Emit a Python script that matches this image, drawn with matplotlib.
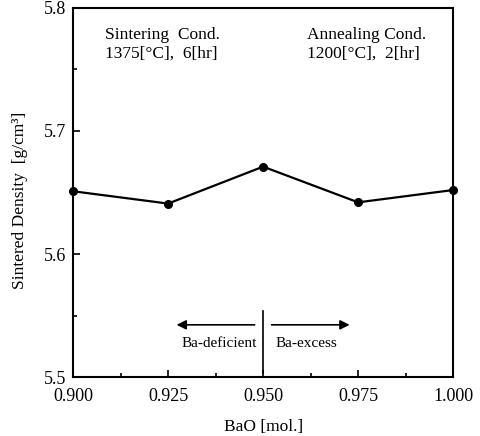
import matplotlib.pyplot as plt
from matplotlib.ticker import MultipleLocator

bao = [0.900, 0.925, 0.950, 0.975, 1.000]
density = [5.651, 5.641, 5.671, 5.642, 5.652]

plt.rcParams['font.family'] = ['Liberation Serif', 'DejaVu Serif']
plt.rcParams['font.size'] = 12.5

fig = plt.figure(figsize=(4.81, 4.36), dpi=100)
ax = fig.add_axes([0.152, 0.135, 0.79, 0.847])

ax.plot(bao, density, color='black', lw=1.6, marker='o', ms=5.5, clip_on=False, zorder=3)

ax.set_xlim(0.9, 1.0)
ax.set_ylim(5.5, 5.8)
ax.xaxis.set_major_locator(MultipleLocator(0.025))
ax.xaxis.set_minor_locator(MultipleLocator(0.0125))
ax.yaxis.set_major_locator(MultipleLocator(0.1))
ax.yaxis.set_minor_locator(MultipleLocator(0.05))
ax.set_xticklabels([f'{v:.3f}' for v in ax.get_xticks()])
ax.set_yticklabels([f'{v:.1f}' for v in ax.get_yticks()])
ax.tick_params(which='both', direction='in', width=1.2, labelsize=13)
ax.tick_params(which='major', length=5)
ax.tick_params(which='minor', length=3)
ax.tick_params(axis='x', pad=8)
ax.tick_params(axis='y', pad=5)
for s in ax.spines.values():
    s.set_linewidth(1.5)

ax.set_xlabel('BaO [mol.]', labelpad=10)
ax.set_ylabel('Sintered Density  [g/cm\u00b3]')
ax.yaxis.set_label_coords(-0.12, 0.48)

ax.text(0.084, 0.948, 'Sintering  Cond.\n1375[\u00b0C],  6[hr]', transform=ax.transAxes,
        va='top', ha='left', linespacing=1.2)
ax.text(0.615, 0.948, 'Annealing Cond.\n1200[\u00b0C],  2[hr]', transform=ax.transAxes,
        va='top', ha='left', linespacing=1.2)

# Ba-deficient / Ba-excess marker
ax.plot([0.95, 0.95], [5.503, 5.554], color='black', lw=1.2)
ax.annotate('', xy=(0.9265, 5.5425), xytext=(0.9485, 5.5425),
            arrowprops=dict(arrowstyle='-|>', color='black', lw=1.2, mutation_scale=14))
ax.annotate('', xy=(0.9735, 5.5425), xytext=(0.9515, 5.5425),
            arrowprops=dict(arrowstyle='-|>', color='black', lw=1.2, mutation_scale=14))
ax.text(0.9385, 5.527, 'Ba-deficient', ha='center', va='center', fontsize=11)
ax.text(0.9615, 5.527, 'Ba-excess', ha='center', va='center', fontsize=11)

fig.savefig('out.png', dpi=100)
